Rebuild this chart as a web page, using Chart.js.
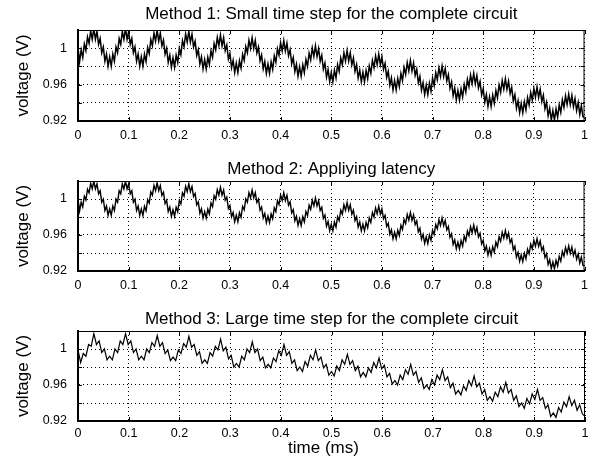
<!DOCTYPE html>
<html><head><meta charset="utf-8">
<script src="https://cdn.jsdelivr.net/npm/chart.js@4.4.1/dist/chart.umd.min.js"></script>
<style>
html,body{margin:0;padding:0;background:#fff;}
canvas{position:absolute;left:0;}
</style></head><body>
<canvas id="c1" width="595" height="150" style="top:0px"></canvas>
<canvas id="c2" width="595" height="150" style="top:150px"></canvas>
<canvas id="c3" width="595" height="163" style="top:300px"></canvas>
<script>
const titles = [
  "Method 1: Small time step for the complete circuit",
  "Method 2: Appliying latency",
  "Method 3: Large time step for the complete circuit"
];
const xLabel = "time (ms)";
const yLabel = "voltage (V)";
const xRange = [0, 1];
const yRange = [0.92, 1.02];
const yLabelledTicks = [0.92, 0.96, 1];

// Method 1: voltage (V), sampled uniformly over 0..1 ms
const method1 = [
1.0000,0.9852,0.9981,0.9897,1.0046,0.9975,1.0124,1.0053,1.0189,1.0099,1.0215,1.0097,1.0184,1.0043,1.0106,0.9950,1.0013,0.9857,0.9936,0.9803,
0.9905,0.9803,0.9936,0.9857,1.0014,0.9950,1.0107,1.0043,1.0184,1.0097,1.0215,1.0097,1.0184,1.0043,1.0106,0.9950,1.0013,0.9857,0.9936,0.9803,
0.9905,0.9802,0.9934,0.9853,1.0007,0.9940,1.0094,1.0027,1.0166,1.0078,1.0195,1.0077,1.0165,1.0025,1.0090,0.9935,1.0000,0.9845,0.9925,0.9792,
0.9895,0.9792,0.9924,0.9843,0.9997,0.9930,1.0084,1.0017,1.0156,1.0068,1.0185,1.0067,1.0154,1.0013,1.0076,0.9920,0.9983,0.9827,0.9906,0.9773,
0.9875,0.9772,0.9902,0.9819,0.9970,0.9900,1.0051,0.9981,1.0118,1.0028,1.0145,1.0027,1.0114,0.9973,1.0036,0.9880,0.9943,0.9787,0.9866,0.9733,
0.9835,0.9732,0.9863,0.9781,0.9933,0.9865,1.0017,0.9949,1.0087,0.9998,1.0115,0.9998,1.0086,0.9947,1.0013,0.9860,0.9926,0.9773,0.9854,0.9722,
0.9825,0.9722,0.9851,0.9767,0.9916,0.9845,0.9994,0.9923,1.0059,0.9969,1.0085,0.9968,1.0056,0.9917,0.9983,0.9830,0.9896,0.9743,0.9824,0.9692,
0.9795,0.9691,0.9818,0.9731,0.9876,0.9800,0.9945,0.9869,1.0002,0.9909,1.0025,0.9908,0.9996,0.9857,0.9923,0.9770,0.9836,0.9683,0.9764,0.9632,
0.9735,0.9631,0.9759,0.9673,0.9819,0.9745,0.9891,0.9817,0.9951,0.9859,0.9975,0.9859,0.9951,0.9817,0.9891,0.9745,0.9819,0.9673,0.9759,0.9631,
0.9735,0.9630,0.9755,0.9665,0.9805,0.9725,0.9865,0.9785,0.9915,0.9820,0.9935,0.9818,0.9906,0.9767,0.9833,0.9680,0.9746,0.9593,0.9674,0.9542,
0.9645,0.9541,0.9667,0.9579,0.9722,0.9645,0.9788,0.9711,0.9843,0.9750,0.9865,0.9748,0.9838,0.9701,0.9770,0.9620,0.9689,0.9539,0.9622,0.9492,
0.9595,0.9490,0.9616,0.9527,0.9669,0.9590,0.9732,0.9653,0.9784,0.9690,0.9805,0.9688,0.9778,0.9641,0.9710,0.9560,0.9629,0.9479,0.9562,0.9432,
0.9535,0.9430,0.9554,0.9463,0.9602,0.9520,0.9659,0.9577,0.9706,0.9610,0.9725,0.9608,0.9699,0.9563,0.9634,0.9485,0.9556,0.9407,0.9491,0.9361,
0.9465,0.9360,0.9485,0.9395,0.9535,0.9455,0.9595,0.9515,0.9645,0.9550,0.9665,0.9548,0.9638,0.9501,0.9570,0.9420,0.9489,0.9339,0.9422,0.9292,
0.9395,0.9290,0.9413,0.9321,0.9458,0.9375,0.9512,0.9429,0.9557,0.9461,0.9575,0.9458,0.9549,0.9413,0.9484,0.9335,0.9406,0.9257,0.9341,0.9211,
0.9315,0.9210,0.9333,0.9241,0.9378,0.9295,0.9432,0.9349,0.9477,0.9381,0.9495,0.9381,0.9481,0.9357,0.9446,0.9315,0.9404,0.9273,0.9369,0.9248,
0.9240
];

// Method 2: voltage (V)
const method2 = [
1.0000,0.9867,0.9966,0.9912,1.0031,0.9990,1.0109,1.0068,1.0174,1.0114,1.0200,1.0112,1.0169,1.0058,1.0091,0.9965,0.9998,0.9872,0.9921,0.9818,
0.9890,0.9818,0.9921,0.9872,0.9999,0.9965,1.0092,1.0058,1.0169,1.0112,1.0200,1.0112,1.0169,1.0058,1.0091,0.9965,0.9998,0.9872,0.9921,0.9818,
0.9890,0.9817,0.9919,0.9868,0.9992,0.9955,1.0079,1.0042,1.0151,1.0093,1.0180,1.0092,1.0150,1.0040,1.0075,0.9950,0.9985,0.9860,0.9910,0.9807,
0.9880,0.9807,0.9909,0.9858,0.9982,0.9945,1.0069,1.0032,1.0141,1.0083,1.0170,1.0082,1.0139,1.0028,1.0061,0.9935,0.9968,0.9842,0.9891,0.9788,
0.9860,0.9787,0.9887,0.9834,0.9955,0.9915,1.0036,0.9996,1.0103,1.0043,1.0130,1.0042,1.0099,0.9988,1.0021,0.9895,0.9928,0.9802,0.9851,0.9748,
0.9820,0.9747,0.9848,0.9796,0.9918,0.9880,1.0002,0.9964,1.0072,1.0013,1.0100,1.0013,1.0071,0.9962,0.9998,0.9875,0.9911,0.9788,0.9839,0.9737,
0.9810,0.9737,0.9836,0.9782,0.9901,0.9860,0.9979,0.9938,1.0044,0.9984,1.0070,0.9983,1.0041,0.9932,0.9968,0.9845,0.9881,0.9758,0.9809,0.9707,
0.9780,0.9706,0.9803,0.9746,0.9861,0.9815,0.9930,0.9884,0.9987,0.9924,1.0010,0.9923,0.9981,0.9872,0.9908,0.9785,0.9821,0.9698,0.9749,0.9647,
0.9720,0.9646,0.9744,0.9688,0.9804,0.9760,0.9876,0.9832,0.9936,0.9874,0.9960,0.9874,0.9936,0.9832,0.9876,0.9760,0.9804,0.9688,0.9744,0.9646,
0.9720,0.9645,0.9740,0.9680,0.9790,0.9740,0.9850,0.9800,0.9900,0.9835,0.9920,0.9833,0.9891,0.9782,0.9818,0.9695,0.9731,0.9608,0.9659,0.9557,
0.9630,0.9556,0.9652,0.9594,0.9707,0.9660,0.9773,0.9726,0.9828,0.9765,0.9850,0.9763,0.9823,0.9716,0.9755,0.9635,0.9674,0.9554,0.9607,0.9507,
0.9580,0.9505,0.9601,0.9542,0.9654,0.9605,0.9717,0.9668,0.9769,0.9705,0.9790,0.9703,0.9763,0.9656,0.9695,0.9575,0.9614,0.9494,0.9547,0.9447,
0.9520,0.9445,0.9539,0.9478,0.9587,0.9535,0.9644,0.9592,0.9691,0.9625,0.9710,0.9623,0.9684,0.9578,0.9619,0.9500,0.9541,0.9422,0.9476,0.9376,
0.9450,0.9375,0.9470,0.9410,0.9520,0.9470,0.9580,0.9530,0.9630,0.9565,0.9650,0.9563,0.9623,0.9516,0.9555,0.9435,0.9474,0.9354,0.9407,0.9307,
0.9380,0.9305,0.9398,0.9336,0.9443,0.9390,0.9497,0.9444,0.9542,0.9476,0.9560,0.9473,0.9534,0.9428,0.9469,0.9350,0.9391,0.9272,0.9326,0.9226,
0.9300,0.9225,0.9318,0.9256,0.9363,0.9310,0.9417,0.9364,0.9462,0.9396,0.9480,0.9396,0.9466,0.9372,0.9431,0.9330,0.9389,0.9288,0.9354,0.9263,
0.9255
];

// Method 3: voltage (V)
const method3 = [
0.999,0.985,0.995,0.992,1.005,1.003,1.017,1.005,1.009,0.996,1.000,0.988,
0.992,0.988,1.000,0.996,1.009,1.005,1.017,1.005,1.009,0.996,1.000,0.988,
0.992,0.988,1.000,0.996,1.007,1.003,1.015,1.003,1.007,0.995,0.999,0.987,
0.991,0.987,0.999,0.995,1.006,1.002,1.014,1.002,1.005,0.993,0.997,0.984,
0.988,0.984,0.996,0.992,1.003,0.999,1.011,0.998,1.002,0.989,0.993,0.980,
0.984,0.980,0.992,0.988,1.000,0.996,1.008,0.996,1.000,0.987,0.991,0.979,
0.983,0.979,0.990,0.986,0.998,0.993,1.005,0.993,0.997,0.984,0.988,0.976,
0.980,0.975,0.986,0.981,0.993,0.988,0.999,0.987,0.991,0.979,0.983,0.971,
0.975,0.970,0.981,0.976,0.988,0.983,0.994,0.983,0.987,0.976,0.981,0.969,
0.974,0.969,0.979,0.974,0.985,0.979,0.990,0.978,0.982,0.969,0.973,0.961,
0.965,0.960,0.971,0.966,0.977,0.972,0.983,0.971,0.975,0.963,0.968,0.956,
0.960,0.955,0.966,0.960,0.971,0.966,0.977,0.965,0.969,0.957,0.962,0.950,
0.954,0.949,0.959,0.954,0.965,0.959,0.970,0.958,0.962,0.950,0.955,0.943,
0.947,0.942,0.952,0.947,0.958,0.952,0.963,0.951,0.955,0.943,0.948,0.936,
0.940,0.934,0.945,0.939,0.950,0.944,0.955,0.943,0.946,0.934,0.938,0.925,
0.929,0.924,0.935,0.930,0.941,0.936,0.947,0.937,0.943,0.932,0.938,0.928,
0.925
];

const seriesList = [method1, method2, method3];
const FONT = "'Liberation Sans', Arial, Helvetica, sans-serif";

Chart.defaults.font.family = FONT;
Chart.defaults.color = '#000';

const frame = {
  id: 'frame',
  afterDraw(chart) {
    const {ctx, chartArea: {left, right, top, bottom}, scales: {x, y}} = chart;
    ctx.save();
    ctx.strokeStyle = '#000';
    ctx.lineWidth = 1;
    ctx.beginPath();
    ctx.moveTo(left, top + 0.5); ctx.lineTo(right, top + 0.5);
    ctx.moveTo(right - 0.5, top); ctx.lineTo(right - 0.5, bottom);
    x.ticks.forEach(t => {
      const px = Math.round(x.getPixelForValue(t.value)) + 0.5;
      ctx.moveTo(px, top); ctx.lineTo(px, top + 4);
      ctx.moveTo(px, bottom); ctx.lineTo(px, bottom - 4);
    });
    y.ticks.forEach(t => {
      const py = Math.round(y.getPixelForValue(t.value)) + 0.5;
      ctx.moveTo(left, py); ctx.lineTo(left + 4, py);
      ctx.moveTo(right, py); ctx.lineTo(right - 4, py);
    });
    ctx.stroke();
    ctx.restore();
  }
};

// panel title above the plot area, and (bottom panel only) the x-axis label below it
function makeTexts(text, baseline, xTitle) {
  return {
    id: 'panelTexts',
    afterDraw(chart) {
      const {ctx, chartArea: {left, right, bottom}} = chart;
      ctx.save();
      ctx.font = '17px ' + FONT;
      ctx.fillStyle = '#000';
      ctx.textAlign = 'center';
      ctx.textBaseline = 'alphabetic';
      ctx.fillText(text, (left + right) / 2, baseline);
      if (xTitle) {
        ctx.fillText(xTitle, (left + right) / 2 - 8, bottom + 32);
      }
      ctx.restore();
    }
  };
}

const layouts = [
  {top: 30, titleBase: 18.5, xHeight: 29, xTitle: null, lw: 1.5, tickPad: 7},
  {top: 31, titleBase: 24, xHeight: 29, xTitle: null, lw: 1.4, tickPad: 7},
  {top: 31, titleBase: 24, xHeight: 42, xTitle: xLabel, lw: 1.2, tickPad: 5}
];

['c1', 'c2', 'c3'].forEach((id, k) => {
  const values = seriesList[k];
  const n = values.length - 1;
  const pts = values.map((v, i) => ({x: xRange[0] + (xRange[1] - xRange[0]) * i / n, y: v}));
  const L = layouts[k];
  new Chart(document.getElementById(id), {
    type: 'line',
    data: {datasets: [{data: pts, borderColor: '#000', borderWidth: L.lw, pointRadius: 0, tension: 0, fill: false}]},
    plugins: [frame, makeTexts(titles[k], L.titleBase, L.xTitle)],
    options: {
      responsive: false,
      animation: false,
      devicePixelRatio: 1,
      layout: {padding: {left: 0, right: 10, top: L.top, bottom: 0}},
      plugins: {
        legend: {display: false},
        tooltip: {enabled: false},
        title: {display: false}
      },
      scales: {
        x: {
          type: 'linear', min: xRange[0], max: xRange[1],
          afterFit: s => { s.height = L.xHeight; },
          ticks: {stepSize: 0.1, autoSkip: false, maxRotation: 0, padding: L.tickPad, font: {size: 12.5}, color: '#000',
            callback: v => String(Number(v.toFixed(1)))},
          grid: {color: '#000', lineWidth: 1, drawTicks: false},
          border: {display: true, color: '#000', width: 2, dash: [1, 3]},
          title: {display: false}
        },
        y: {
          type: 'linear', min: yRange[0], max: yRange[1],
          afterFit: s => { s.width = 78; },
          ticks: {stepSize: 0.02, autoSkip: false, padding: 11, font: {size: 12.5}, color: '#000',
            callback: v => {
              const r = Number(v.toFixed(2));
              return yLabelledTicks.some(t => Math.abs(t - r) < 1e-6) ? String(r) : '';
            }},
          grid: {color: '#000', lineWidth: 1, drawTicks: false},
          border: {display: true, color: '#000', width: 2, dash: [1, 3]},
          title: {display: true, text: yLabel, color: '#000', font: {size: 17}, padding: {top: 12.8, bottom: 0}}
        }
      }
    }
  });
});
</script>
</body></html>
